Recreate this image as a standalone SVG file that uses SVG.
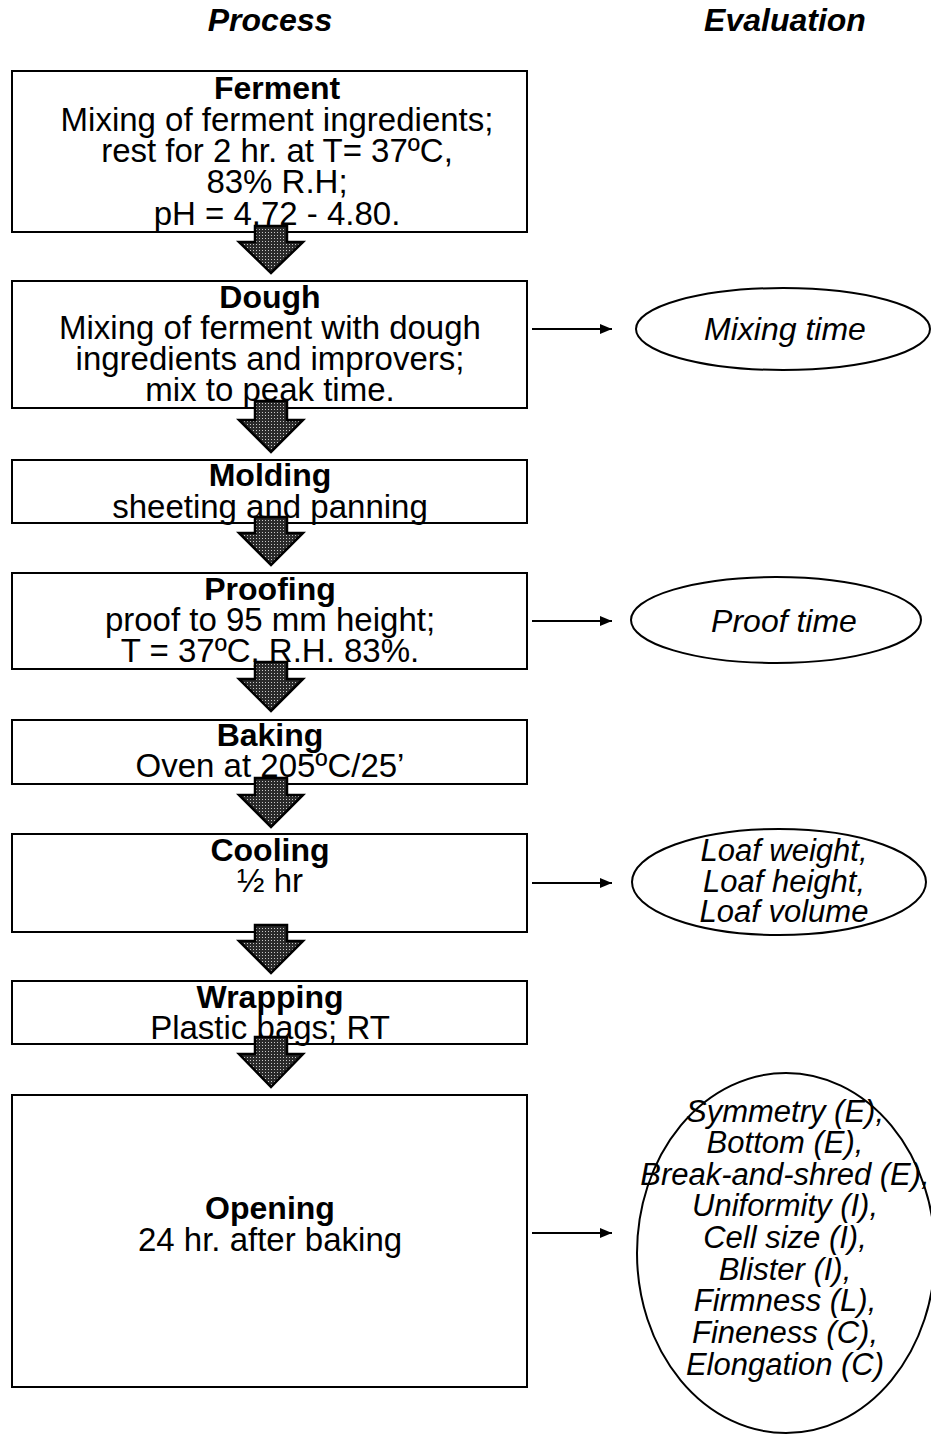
<svg xmlns="http://www.w3.org/2000/svg" width="931" height="1437" viewBox="0 0 931 1437">
<style>
.box{fill:#fff;stroke:#000;stroke-width:2}
.ell{fill:#fff;stroke:#000;stroke-width:2}
.t{font-family:"Liberation Sans",Arial,sans-serif;font-size:33px;text-anchor:middle;fill:#000}
.b{font-weight:bold;font-size:32px}
.i{font-style:italic;font-size:32px}
.s{font-size:31px}
.h{font-family:"Liberation Sans",Arial,sans-serif;font-size:32px;font-weight:bold;font-style:italic;text-anchor:middle}
.blk{fill:url(#dots);stroke:#000;stroke-width:2.5;stroke-linejoin:miter}
.con{stroke:#000;stroke-width:2;fill:none;marker-end:url(#ah)}
</style>
<defs>
<pattern id="dots" width="3" height="3" patternUnits="userSpaceOnUse">
<rect width="3" height="3" fill="#2a2a2a"/>
<rect x="1" y="1" width="1" height="1" fill="#c8c8c8"/>
</pattern>
<marker id="ah" markerWidth="14" markerHeight="12" refX="12" refY="6" orient="auto" markerUnits="userSpaceOnUse">
<path d="M0,1 L12,6 L0,11 z" fill="#000"/>
</marker>
</defs>
<rect width="931" height="1437" fill="#fff"/>
<text class="h" x="270" y="31">Process</text>
<text class="h" x="785" y="31">Evaluation</text>

<g id="ferment"><rect class="box" x="12" y="71" width="515" height="161"/>
<text class="t b" x="277" y="99">Ferment</text>
<text class="t" x="277" y="131">Mixing of ferment ingredients;</text>
<text class="t" x="277" y="162">rest for 2 hr. at T= 37ºC,</text>
<text class="t" x="277" y="193">83% R.H;</text>
<text class="t" x="277" y="225">pH = 4.72 - 4.80.</text></g>

<g id="dough"><rect class="box" x="12" y="281" width="515" height="127"/>
<text class="t b" x="270" y="308">Dough</text>
<text class="t" x="270" y="339">Mixing of ferment with dough</text>
<text class="t" x="270" y="370">ingredients and improvers;</text>
<text class="t" x="270" y="401">mix to peak time.</text></g>

<g id="molding"><rect class="box" x="12" y="460" width="515" height="63"/>
<text class="t b" x="270" y="486">Molding</text>
<text class="t" x="270" y="518">sheeting and panning</text></g>

<g id="proofing"><rect class="box" x="12" y="573" width="515" height="96"/>
<text class="t b" x="270" y="600">Proofing</text>
<text class="t" x="270" y="631">proof to 95 mm height;</text>
<text class="t" x="270" y="662">T = 37ºC, R.H. 83%.</text></g>

<g id="baking"><rect class="box" x="12" y="720" width="515" height="64"/>
<text class="t b" x="270" y="746">Baking</text>
<text class="t" x="270" y="777">Oven at 205ºC/25’</text></g>

<g id="cooling"><rect class="box" x="12" y="834" width="515" height="98"/>
<text class="t b" x="270" y="861">Cooling</text>
<text class="t" x="270" y="892">½ hr</text></g>

<g id="wrapping"><rect class="box" x="12" y="981" width="515" height="63"/>
<text class="t b" x="270" y="1008">Wrapping</text>
<text class="t" x="270" y="1039">Plastic bags; RT</text></g>

<g id="opening"><rect class="box" x="12" y="1095" width="515" height="292"/>
<text class="t b" x="270" y="1219">Opening</text>
<text class="t" x="270" y="1251">24 hr. after baking</text></g>

<g id="eval-mixing"><ellipse class="ell" cx="783" cy="329" rx="147" ry="41"/>
<text class="t i" x="785" y="340">Mixing time</text></g>

<g id="eval-proof"><ellipse class="ell" cx="776" cy="620" rx="145" ry="43"/>
<text class="t i" x="784" y="632">Proof time</text></g>

<g id="eval-loaf"><ellipse class="ell" cx="779" cy="882" rx="147" ry="53"/>
<text class="t i s" x="784" y="861">Loaf weight,</text>
<text class="t i s" x="784" y="892">Loaf height,</text>
<text class="t i s" x="784" y="922">Loaf volume</text></g>

<g id="eval-opening"><ellipse class="ell" cx="786" cy="1253" rx="149" ry="180"/>
<text class="t i s" x="785" y="1122">Symmetry (E),</text>
<text class="t i s" x="785" y="1153">Bottom (E),</text>
<text class="t i s" x="785" y="1185">Break-and-shred (E),</text>
<text class="t i s" x="785" y="1216">Uniformity (I),</text>
<text class="t i s" x="785" y="1248">Cell size (I),</text>
<text class="t i s" x="785" y="1280">Blister (I),</text>
<text class="t i s" x="785" y="1311">Firmness (L),</text>
<text class="t i s" x="785" y="1343">Fineness (C),</text>
<text class="t i s" x="785" y="1375">Elongation (C)</text></g>

<g id="connectors">
<path class="blk" d="M255,226 H287 V242 H303 L271,273 L239,242 H255 Z"/>
<path class="blk" d="M255,401 H287 V420 H303 L271,452 L239,420 H255 Z"/>
<path class="blk" d="M255,517 H287 V533 H303 L271,565 L239,533 H255 Z"/>
<path class="blk" d="M255,662 H287 V679 H303 L271,711 L239,679 H255 Z"/>
<path class="blk" d="M255,778 H287 V795 H303 L271,827 L239,795 H255 Z"/>
<path class="blk" d="M255,925 H287 V941 H303 L271,973 L239,941 H255 Z"/>
<path class="blk" d="M255,1037 H287 V1054 H303 L271,1087 L239,1054 H255 Z"/>
<line class="con" x1="532" y1="329" x2="612" y2="329"/>
<line class="con" x1="532" y1="621" x2="612" y2="621"/>
<line class="con" x1="532" y1="883" x2="612" y2="883"/>
<line class="con" x1="532" y1="1233" x2="612" y2="1233"/>
</g>
</svg>
